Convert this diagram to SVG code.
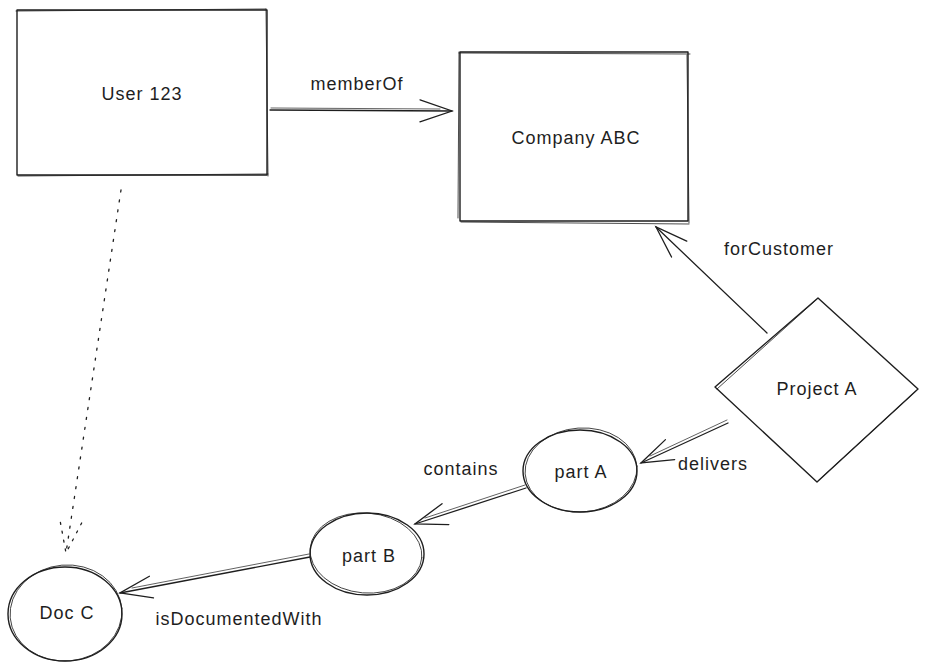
<svg xmlns="http://www.w3.org/2000/svg" width="928" height="669" viewBox="0 0 928 669">
<defs>
<style>
.shape{fill:none;stroke:#1e1e1e;stroke-width:1.4;stroke-linejoin:round;stroke-linecap:round}
.shape2{fill:none;stroke:#1e1e1e;stroke-width:0.8;stroke-linecap:round}
.conn{fill:none;stroke:#1e1e1e;stroke-width:1.3;stroke-linecap:round}
.conn2{fill:none;stroke:#1e1e1e;stroke-width:0.7;stroke-linecap:round}
.dot{fill:none;stroke:#1e1e1e;stroke-width:1.3;stroke-dasharray:2 8;stroke-linecap:round}
text{font-family:"Liberation Sans","DejaVu Sans",sans-serif;font-size:18px;letter-spacing:1px;fill:#1e1e1e;text-anchor:middle}
</style>
<marker id="ah" markerUnits="userSpaceOnUse" markerWidth="40" markerHeight="40" refX="0" refY="0" orient="auto" overflow="visible">
<path d="M -32 -11 L 0 0 L -32 11" fill="none" stroke="#1e1e1e" stroke-width="1.3" stroke-linecap="round"/>
</marker>
<marker id="ahd" markerUnits="userSpaceOnUse" markerWidth="40" markerHeight="40" refX="0" refY="0" orient="auto" overflow="visible">
<path d="M -32 -11 L 0 0 L -32 11" fill="none" stroke="#1e1e1e" stroke-width="1.3" stroke-dasharray="2 7" stroke-linecap="round"/>
</marker>
</defs>
<rect width="928" height="669" fill="#ffffff"/>

<g id="connectors">
<g id="e-memberOf">
<path class="conn" d="M 270 110 L 452 111" marker-end="url(#ah)"/>
<path class="conn2" d="M 271 108 L 440 109"/>
<text x="357" y="90">memberOf</text>
</g>
<g id="e-forCustomer">
<path class="conn" d="M 767 333 L 656 227" marker-end="url(#ah)"/>
<text x="779" y="255">forCustomer</text>
</g>
<g id="e-delivers">
<path class="conn" d="M 728 423 L 641 463" marker-end="url(#ah)"/>
<path class="conn2" d="M 727 420 L 650 456"/>
<text x="713" y="470">delivers</text>
</g>
<g id="e-contains">
<path class="conn" d="M 526 488 L 415 524" marker-end="url(#ah)"/>
<path class="conn2" d="M 525 485 L 425 518"/>
<text x="461" y="475">contains</text>
</g>
<g id="e-isDocumentedWith">
<path class="conn" d="M 310 557 L 120 593" marker-end="url(#ah)"/>
<path class="conn2" d="M 309 554 L 132 588"/>
<text x="239" y="625">isDocumentedWith</text>
</g>
<g id="e-dotted">
<path class="dot" d="M 121 190 L 66 553" marker-end="url(#ahd)"/>
</g>
</g>

<g id="n-user123">
<rect class="shape" x="17" y="10" width="250" height="165"/>
<path class="shape2" d="M 16 11 L 266 9 M 18 176 L 268 174 M 266 9 L 268 176"/>
<text x="142" y="100">User 123</text>
</g>

<g id="n-companyABC">
<rect class="shape" x="460" y="52" width="228" height="169"/>
<path class="shape2" d="M 459 53 L 690 54 M 461 222 L 689 224 M 687 55 L 689 223 M 459 52 L 458 218"/>
<text x="576" y="144">Company ABC</text>
</g>

<g id="n-projectA">
<path class="shape" d="M 818 298 L 918 389 L 817 482 L 715 387 Z"/>
<path class="shape2" d="M 717 389 L 816 300 M 916 391 L 819 480"/>
<text x="817" y="395">Project A</text>
</g>

<g id="n-partA">
<ellipse class="shape" cx="580" cy="471" rx="57" ry="41"/>
<ellipse class="shape2" cx="581" cy="470" rx="56" ry="42" transform="rotate(-4 581 470)"/>
<text x="581" y="478">part A</text>
</g>

<g id="n-partB">
<ellipse class="shape" cx="367" cy="554" rx="57" ry="41"/>
<ellipse class="shape2" cx="366" cy="553" rx="56" ry="40" transform="rotate(5 366 553)"/>
<text x="369" y="562">part B</text>
</g>

<g id="n-docC">
<ellipse class="shape" cx="65" cy="614" rx="57" ry="47"/>
<ellipse class="shape2" cx="66" cy="613" rx="56" ry="48" transform="rotate(-5 66 613)"/>
<text x="67" y="619">Doc C</text>
</g>
</svg>
